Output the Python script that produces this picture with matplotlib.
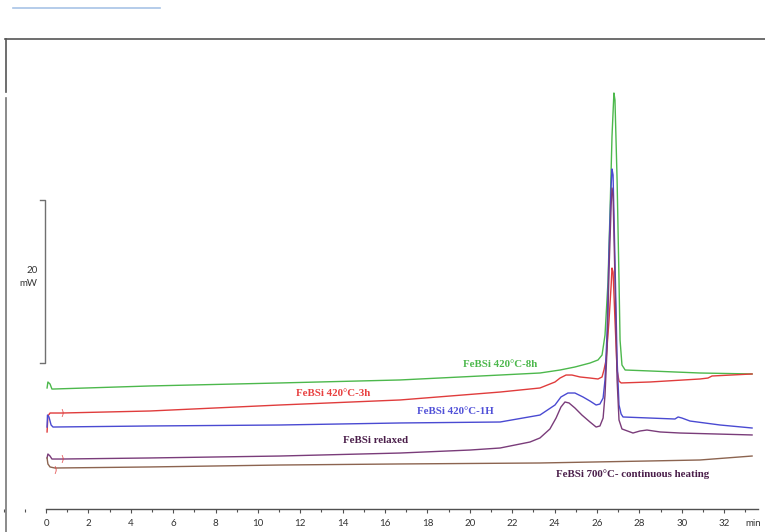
import numpy as np
import matplotlib
matplotlib.use("Agg")
import matplotlib.pyplot as plt
from matplotlib.ticker import MultipleLocator

# Curvas DSC (tempo em min, fluxo em mW, deslocadas)
t_8h = [0.05, 0.09, 0.19, 0.28, 0.33, 4.91, 11.04, 16.71, 21.43, 23.31, 24.26, 24.96, 25.67, 26.05,
        26.24, 26.38, 26.52, 26.62, 26.71, 26.80, 26.85, 26.95, 27.04, 27.09, 27.18, 27.33, 28.50,
        30.86, 33.32]
q_8h = [14.94, 15.68, 15.43, 14.81, 14.81, 15.19, 15.56, 15.93, 16.54, 16.79, 17.16, 17.53, 18.02, 18.40,
        19.01, 21.48, 28.00, 37.00, 46.00, 51.36, 50.49, 40.62, 28.27, 20.86, 17.78, 17.16, 17.04,
        16.79, 16.67]

t_3h = [0.05, 0.09, 0.19, 0.76, 4.91, 11.04, 16.71, 21.43, 23.31, 24.02, 24.26, 24.54, 24.82, 25.20,
        25.67, 26.05, 26.24, 26.33, 26.43, 26.57, 26.67, 26.71, 26.76, 26.85, 26.95, 27.04, 27.14,
        28.50, 30.86, 31.24, 31.43, 33.32]
q_3h = [9.51, 11.48, 11.85, 11.85, 12.10, 12.84, 13.46, 14.44, 14.94, 15.68, 16.17, 16.54, 16.54, 16.30,
        16.17, 16.05, 16.30, 17.16, 18.40, 23.33, 27.65, 29.75, 29.26, 23.33, 17.16, 15.80, 15.56,
        15.68, 16.05, 16.17, 16.42, 16.67]

t_1h = [0.05, 0.07, 0.14, 0.24, 0.33, 4.91, 11.04, 16.71, 21.43, 23.31, 24.02, 24.30, 24.63, 24.96,
        25.34, 25.67, 25.96, 26.14, 26.29, 26.38, 26.48, 26.57, 26.67, 26.71, 26.76, 26.85, 26.95,
        27.04, 27.14, 27.23, 28.50, 29.68, 29.83, 30.01, 30.39, 31.81, 33.32]
q_1h = [10.12, 11.60, 11.36, 10.37, 10.12, 10.25, 10.37, 10.62, 10.74, 11.60, 12.84, 13.83, 14.32, 14.32,
        13.83, 13.33, 12.84, 12.96, 13.70, 15.93, 22.00, 31.98, 40.00, 41.98, 41.23, 30.74, 18.40,
        12.84, 11.73, 11.36, 11.23, 11.11, 11.36, 11.23, 10.86, 10.37, 10.00]

t_rel = [0.05, 0.09, 0.19, 0.28, 0.76, 4.91, 11.04, 16.71, 20.01, 21.43, 22.84, 23.31, 23.78, 24.07,
         24.30, 24.49, 24.68, 24.96, 25.29, 25.67, 25.96, 26.14, 26.29, 26.38, 26.48, 26.57, 26.67,
         26.71, 26.76, 26.85, 26.95, 27.04, 27.18, 27.70, 28.03, 28.36, 28.98, 29.92, 33.32]
q_rel = [6.30, 6.79, 6.54, 6.17, 6.17, 6.30, 6.54, 6.91, 7.28, 7.53, 8.27, 8.77, 9.88, 11.23,
         12.59, 13.21, 13.09, 12.47, 11.60, 10.74, 10.12, 10.25, 11.23, 14.07, 20.00, 29.51, 37.53,
         39.63, 38.77, 28.27, 15.93, 10.99, 9.88, 9.38, 9.63, 9.75, 9.51, 9.38, 9.14]

t_700 = [0.05, 0.09, 0.19, 0.42, 4.91, 11.04, 16.71, 23.31, 28.50, 30.86, 33.32]
q_700 = [6.30, 5.56, 5.19, 5.06, 5.19, 5.43, 5.56, 5.68, 5.93, 6.05, 6.54]

rotulos = ["FeBSi 420°C-8h", "FeBSi 420°C-3h", "FeBSi 420°C-1H", "FeBSi relaxed",
           "FeBSi 700°C- continuous heating"]
pos_rotulos = [(21.43, 17.78), (13.54, 14.32), (19.30, 11.98), (15.57, 8.40), (27.70, 4.32)]

cores = ['#4cb84c', '#e03c3c', '#4a4ad2', '#7a3c7a', '#8c6450']
cores_txt = ['#4cb84c', '#e84040', '#5050d8', '#4a1e4a', '#4a1e4a']

fig = plt.figure(figsize=(7.65, 5.32), dpi=100)
ax = fig.add_axes([0, 0, 1, 1])
ax.set_xlim(-2.171, 33.93)
ax.set_ylim(-2.84, 62.84)

curvas = [(t_8h, q_8h), (t_3h, q_3h), (t_1h, q_1h), (t_rel, q_rel), (t_700, q_700)]
for (t, q), c in zip(curvas, cores):
    ax.plot(t, q, color=c, lw=1.0, solid_joinstyle='round')

# pequenas marcas de início
ax.text(0.76, 11.85, ")", color=cores[1], fontsize=6, ha='center', va='center')
ax.text(0.76, 6.17, ")", color=cores[1], fontsize=6, ha='center', va='center')
ax.text(0.42, 4.75, ")", color=cores[1], fontsize=6, ha='center', va='center')

for txt, (x, y), c in zip(rotulos, pos_rotulos, cores_txt):
    ax.text(x, y, txt, color=c, fontsize=7.8, family='Liberation Serif', weight='bold',
            ha='center', va='center')

# eixo do tempo
for s in ['left', 'right', 'top']:
    ax.spines[s].set_visible(False)
ax.spines['bottom'].set_position(('data', 0))
ax.spines['bottom'].set_bounds(0, 33.6)
ax.spines['bottom'].set_color('#505050')
ax.spines['bottom'].set_linewidth(1.0)
ax.set_xticks(np.arange(0, 33, 2))
ax.xaxis.set_minor_locator(MultipleLocator(1))
ax.tick_params(axis='x', which='major', direction='out', length=3, width=0.8, color='#505050',
               labelsize=7, labelcolor='#333333', pad=4.5)
ax.tick_params(axis='x', which='minor', direction='out', length=1.8, width=0.8, color='#505050')
for lab in ax.get_xticklabels():
    lab.set_family('Lato')
ax.set_yticks([])
ax.text(33.36, -1.85, "min", fontsize=7, family='Lato', color='#333333', ha='center', va='center')

# barra de escala 20 mW
ax.plot([-0.28, -0.05, -0.05, -0.28], [38.2, 38.2, 18.0, 18.0], color='#707070', lw=1.0)
ax.text(-0.40, 29.5, "20", fontsize=7, family='Lato', color='#333333', ha='right', va='center')
ax.text(-0.40, 27.8, "mW", fontsize=7, family='Lato', color='#333333', ha='right', va='center')

# moldura da figura original
fig.add_artist(plt.Line2D([0.0065, 1.0], [0.9276, 0.9276], color='#555555', lw=1.2))
fig.add_artist(plt.Line2D([0.0078, 0.0078], [0.9276, 0.827], color='#555555', lw=1.2))
fig.add_artist(plt.Line2D([0.0078, 0.0078], [0.816, 0.0], color='#777777', lw=1.2))
fig.add_artist(plt.Line2D([0.017, 0.209], [0.985, 0.985], color='#a8c4e6', lw=1.2))

fig.savefig("out.png", dpi=100)
